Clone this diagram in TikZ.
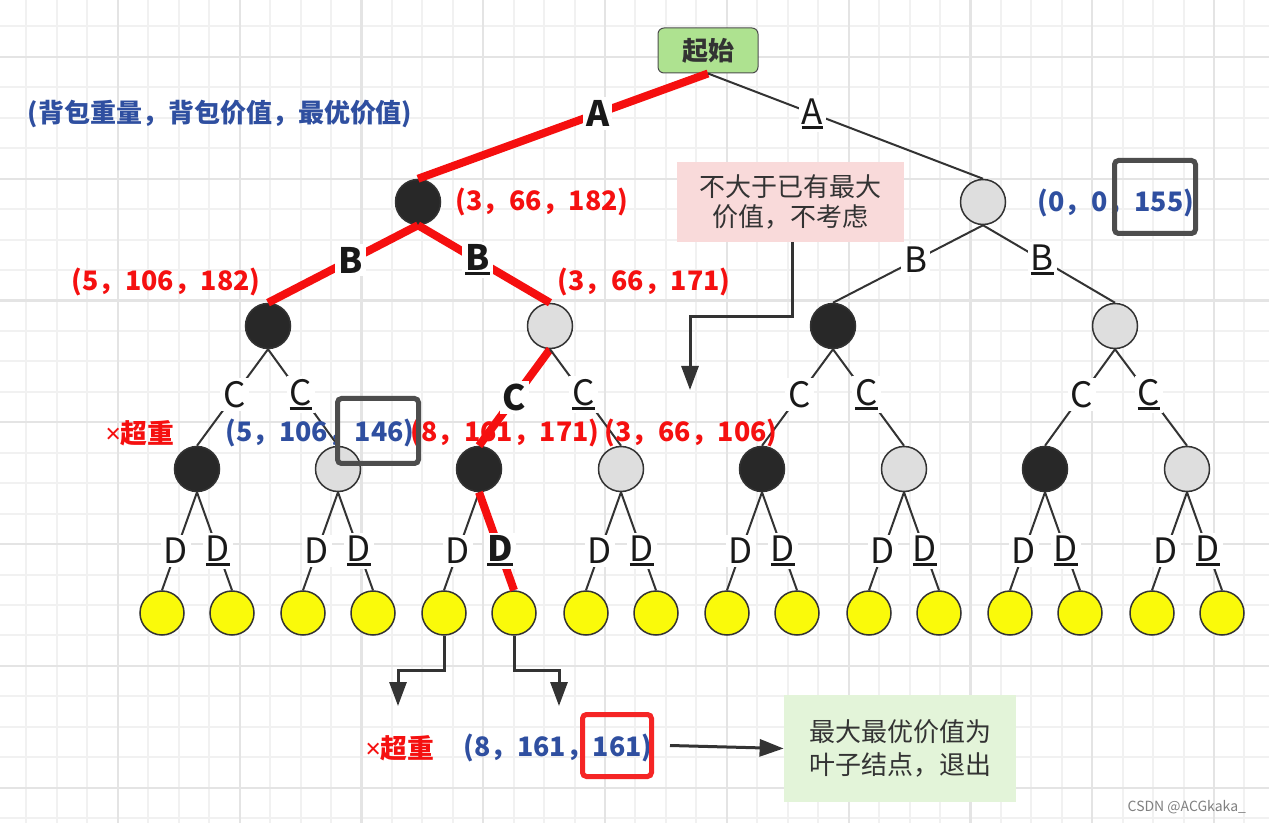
\documentclass[tikz,border=0pt]{standalone}
\usepackage{fontspec}
\setmainfont{Noto Sans CJK SC}
\newfontfamily\latinfont{Noto Sans}
\usetikzlibrary{arrows.meta,positioning}

\definecolor{edgegray}{HTML}{333333}
\definecolor{pathred}{HTML}{F50F0F}
\definecolor{valred}{HTML}{F51010}
\definecolor{valblue}{HTML}{2F4FA0}
\definecolor{nodeblack}{HTML}{282828}
\definecolor{nodegray}{HTML}{DEDEDE}
\definecolor{leafyellow}{HTML}{FAFA0A}
\definecolor{startgreen}{HTML}{AEE290}
\definecolor{notepink}{HTML}{F9DADA}
\definecolor{notegreen}{HTML}{E3F4D9}
\definecolor{boxgray}{HTML}{4D4D4D}
\definecolor{boxred}{HTML}{F52525}
\definecolor{gridminor}{HTML}{F1F1F1}
\definecolor{gridmajor}{HTML}{E4E4E4}

\newsavebox{\ulbox}
\newcommand{\undl}[1]{\sbox{\ulbox}{#1}\rlap{\rule[-2.3pt]{\wd\ulbox}{1.5pt}}\usebox{\ulbox}}
\newcommand{\overw}{{\latinfont\mdseries ×}超重}

\begin{document}
\begin{tikzpicture}[x=0.5pt, y=-0.5pt,
    blacknode/.style={circle, draw=edgegray, fill=nodeblack, line width=0.75pt, minimum size=22.5pt, inner sep=0pt},
    graynode/.style={blacknode, fill=nodegray},
    leaf/.style={circle, draw=edgegray, fill=leafyellow, line width=0.75pt, minimum size=22pt, inner sep=0pt},
    edge/.style={edgegray, line width=1pt},
    redpath/.style={pathred, line width=4pt},
    lbl/.style={fill=white, inner sep=1.5pt, text=black!90, font=\fontsize{17.5}{18}\selectfont},
    lblb/.style={lbl, font=\bfseries\fontsize{17.5}{18}\selectfont},
    val/.style={font=\bfseries\fontsize{13.4}{16}\selectfont},
    hlbox/.style={draw=boxgray, line width=2.5pt, rounded corners=2pt, inner sep=0pt},
    note/.style={align=center, text=edgegray, font=\fontsize{13}{15}\selectfont, inner sep=0pt},
    flowarrow/.style={edgegray, line width=1.5pt, -{Triangle[length=12pt, width=8.5pt]}}]
  \useasboundingbox (0,0) rectangle (1269,823);
  \clip (0,0) rectangle (1269,823);
  \fill[white] (0,0) rectangle (1269,823);
  % grid
  \foreach \i in {0,...,41} \draw[gridminor, line width=1pt] ({-4+30.45*\i},0) -- ({-4+30.45*\i},823);
  \foreach \i in {0,...,27} \draw[gridminor, line width=1pt] (0,{-4+30.45*\i}) -- (1269,{-4+30.45*\i});
  \foreach \i in {0,4,...,40} \draw[gridmajor, line width=1.1pt] ({-4+30.45*\i},0) -- ({-4+30.45*\i},823);
  \foreach \i in {2,6,...,26} \draw[gridmajor, line width=1.1pt] (0,{-4+30.45*\i}) -- (1269,{-4+30.45*\i});

  % tree nodes
  \node[draw=boxgray, fill=startgreen, rounded corners=3pt, line width=0.5pt, minimum width=50pt, minimum height=22.5pt,
        text=edgegray, font=\bfseries\fontsize{13}{15}\selectfont] (start) at (708,50.5) {起始};
  \node[blacknode] (n1) at (418,202) {};
  \node[graynode] (n2) at (983,202) {};
  \node[blacknode] (n11) at (268,326) {};
  \node[graynode] (n12) at (550,326) {};
  \node[blacknode] (n21) at (833,326) {};
  \node[graynode] (n22) at (1115,326) {};
  \foreach \n/\x/\s in {l1/197/blacknode, l2/338/graynode, l3/479/blacknode, l4/621/graynode,
                        l5/762/blacknode, l6/904/graynode, l7/1045/blacknode, l8/1187/graynode}
    \node[\s] (\n) at (\x,469) {};
  \foreach \i/\x in {1/197, 2/338, 3/479, 4/621, 5/762, 6/904, 7/1045, 8/1187} {
    \node[leaf] (fa\i) at (\x-35,613) {};
    \node[leaf] (fb\i) at (\x+35,613) {};
  }

  % edges
  \draw[redpath] (start.south) -- node[lblb, pos=0.38] {A} (n1.north);
  \draw[edge] (start.south) -- node[lbl, pos=0.38] {\undl{A}} (n2.north);
  \draw[redpath] (n1.south) -- node[lblb, pos=0.45] {B} (n11.north);
  \draw[redpath] (n1.south) -- node[lblb, pos=0.45] {\undl{B}} (n12.north);
  \draw[edge] (n2.south) -- node[lbl, pos=0.45] {B} (n21.north);
  \draw[edge] (n2.south) -- node[lbl, pos=0.45] {\undl{B}} (n22.north);
  \draw[edge] (n11.south) -- node[lbl, pos=0.47] {C} (l1.north);
  \draw[edge] (n11.south) -- node[lbl, pos=0.47] {\undl{C}} (l2.north);
  \draw[redpath] (n12.south) -- node[lblb, pos=0.5] {C} (l3.north);
  \draw[edge] (n12.south) -- node[lbl, pos=0.47] {\undl{C}} (l4.north);
  \draw[edge] (n21.south) -- node[lbl, pos=0.47] {C} (l5.north);
  \draw[edge] (n21.south) -- node[lbl, pos=0.47] {\undl{C}} (l6.north);
  \draw[edge] (n22.south) -- node[lbl, pos=0.47] {C} (l7.north);
  \draw[edge] (n22.south) -- node[lbl, pos=0.47] {\undl{C}} (l8.north);
  \foreach \i in {1,2,4,5,6,7,8} {
    \draw[edge] (l\i.south) -- node[lbl, pos=0.6] {D} (fa\i.north);
    \draw[edge] (l\i.south) -- node[lbl, pos=0.6] {\undl{D}} (fb\i.north);
  }
  \draw[edge] (l3.south) -- node[lbl, pos=0.6] {D} (fa3.north);
  \draw[redpath] (l3.south) -- node[lblb, pos=0.6] {\undl{D}} (fb3.north);

  % values
  \node[text=valblue, font=\bfseries\fontsize{13}{15}\selectfont] (legend) at (220,114) {(背包重量，背包价值，最优价值)};
  \node[val, text=valred] (v1) at (542,202) {(3，66，182)};
  \node[val, text=valblue] (v2) at (1116,203) {(0，0，155)};
  \node[val, text=valred] (v11) at (166,282) {(5，106，182)};
  \node[val, text=valred] (v12) at (644,282) {(3，66，171)};
  \node[val, text=valred] (over1) at (140,433) {\overw};
  \node[val, text=valblue] (v2b) at (320,433) {(5，106，146)};
  \node[val, text=valred] (v3a) at (505,433) {(8，161，171)};
  \node[val, text=valred] (v4a) at (691,433) {(3，66，106)};
  \node[val, text=valred] (over2) at (400,748) {\overw};
  \node[val, text=valblue] (best) at (558,748) {(8，161，161)};
  \node[hlbox, minimum width=40.5pt, minimum height=36.5pt] (box155) at (1155,197) {};
  \node[hlbox, minimum width=40.5pt, minimum height=32.5pt] (box146) at (378,431) {};
  \node[hlbox, draw=boxred, minimum width=34.5pt, minimum height=31pt] (box161) at (617,745.5) {};

  % notes and arrows
  \node[note, fill=notepink, minimum width=113.5pt, minimum height=40pt] (note1) at (790.5,202) {不大于已有最大\\价值，不考虑};
  \node[note, fill=notegreen, minimum width=116pt, minimum height=53.5pt, font=\fontsize{13}{16.5}\selectfont] (note2) at (900,748.5) {最大最优价值为\\叶子结点，退出};
  \coordinate (skipend) at (690,390);
  \coordinate (overend) at (398,706);
  \coordinate (bestend) at (559,706);
  \draw[flowarrow] ([xshift=1pt]note1.south) -- ++(0,74) -| (skipend);
  \draw[flowarrow] (fa3.south) -- ++(0,35) -| (overend);
  \draw[flowarrow] (fb3.south) -- ++(0,35) -| (bestend);
  \draw[flowarrow] ([xshift=8pt]box161.east) -- (note2.west);

  \node[text=gray, font=\fontsize{7}{8}\selectfont, anchor=east] (mark) at (1253,807) {CSDN @ACGkaka\_};
\end{tikzpicture}
\end{document}
